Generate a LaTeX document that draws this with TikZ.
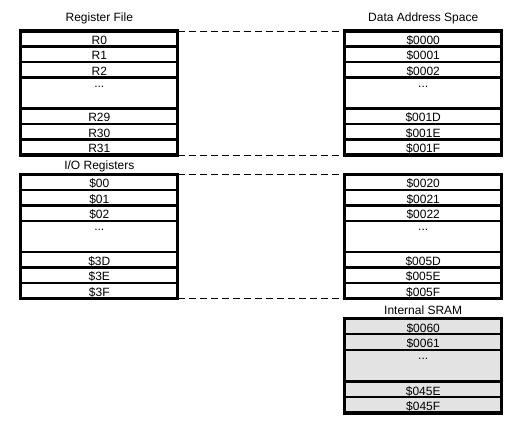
\documentclass[tikz,border=0pt]{standalone}
\usepackage{fontspec}
\setmainfont{Liberation Sans}
\usetikzlibrary{fit}
\begin{document}
\begin{tikzpicture}[x=1pt,y=-1pt,
  txt/.style={font=\fontsize{12}{14}\selectfont},
  cell/.style={txt, draw, line width=2.3pt, minimum width=157pt, inner sep=0pt, outer sep=0pt,
    minimum height=15.5pt, text height=13.5pt, text depth=2pt},
  tallcell/.style={cell, minimum height=31pt, text height=10pt, text depth=21pt},
  sramcell/.style={cell, fill=gray!22, minimum height=15.75pt, text height=13.75pt},
  sramtall/.style={sramcell, minimum height=31.5pt, text height=10pt, text depth=21.5pt},
  frame/.style={draw, line width=3.2pt, inner sep=0pt, outer sep=0pt},
  link/.style={line width=0.9pt, dash pattern=on 7.5pt off 3.5pt},
  title/.style={txt, anchor=base, inner sep=0pt}
]
\useasboundingbox (0,0) rectangle (525,435);

% titles
\node[title] (trf) at (99.3,21.7) {Register File};
\node[title] (tda) at (423.2,21.7) {Data Address Space};
\node[title] (tio) at (99.3,170) {I/O Registers};
\node[title] (tsr) at (423.2,315) {Internal SRAM};

% Register file
\node[cell] (rf0) at (99.3,38.75) {R0};
\node[cell] (rf1) at (99.3,54.25) {R1};
\node[cell] (rf2) at (99.3,69.75) {R2};
\node[tallcell] (rf3) at (99.3,93) {...};
\node[cell] (rf4) at (99.3,116.25) {R29};
\node[cell] (rf5) at (99.3,131.75) {R30};
\node[cell] (rf6) at (99.3,147.25) {R31};
\node[frame, fit=(rf0)(rf6)] (rfF) {};

% Data address space 1
\node[cell] (da0) at (423.2,38.75) {\$0000};
\node[cell] (da1) at (423.2,54.25) {\$0001};
\node[cell] (da2) at (423.2,69.75) {\$0002};
\node[tallcell] (da3) at (423.2,93) {...};
\node[cell] (da4) at (423.2,116.25) {\$001D};
\node[cell] (da5) at (423.2,131.75) {\$001E};
\node[cell] (da6) at (423.2,147.25) {\$001F};
\node[frame, fit=(da0)(da6)] (daF) {};

% I/O registers
\node[cell] (io0) at (99.3,182.25) {\$00};
\node[cell] (io1) at (99.3,197.75) {\$01};
\node[cell] (io2) at (99.3,213.25) {\$02};
\node[tallcell] (io3) at (99.3,236.5) {...};
\node[cell] (io4) at (99.3,259.75) {\$3D};
\node[cell] (io5) at (99.3,275.25) {\$3E};
\node[cell] (io6) at (99.3,290.75) {\$3F};
\node[frame, fit=(io0)(io6)] (ioF) {};

% Data address space 2
\node[cell] (db0) at (423.2,182.25) {\$0020};
\node[cell] (db1) at (423.2,197.75) {\$0021};
\node[cell] (db2) at (423.2,213.25) {\$0022};
\node[tallcell] (db3) at (423.2,236.5) {...};
\node[cell] (db4) at (423.2,259.75) {\$005D};
\node[cell] (db5) at (423.2,275.25) {\$005E};
\node[cell] (db6) at (423.2,290.75) {\$005F};
\node[frame, fit=(db0)(db6)] (dbF) {};

% Internal SRAM
\node[sramcell] (sr0) at (423.2,326.375) {\$0060};
\node[sramcell] (sr1) at (423.2,342.125) {\$0061};
\node[sramtall] (sr2) at (423.2,365.75) {...};
\node[sramcell] (sr3) at (423.2,389.375) {\$045E};
\node[sramcell] (sr4) at (423.2,405.125) {\$045F};
\node[frame, fit=(sr0)(sr4)] (srF) {};

% dashed mapping lines
\draw[link] (rfF.north east) -- (daF.north west);
\draw[link] (rfF.south east) -- (daF.south west);
\draw[link] (ioF.north east) -- (dbF.north west);
\draw[link] (ioF.south east) -- (dbF.south west);
\end{tikzpicture}
\end{document}
